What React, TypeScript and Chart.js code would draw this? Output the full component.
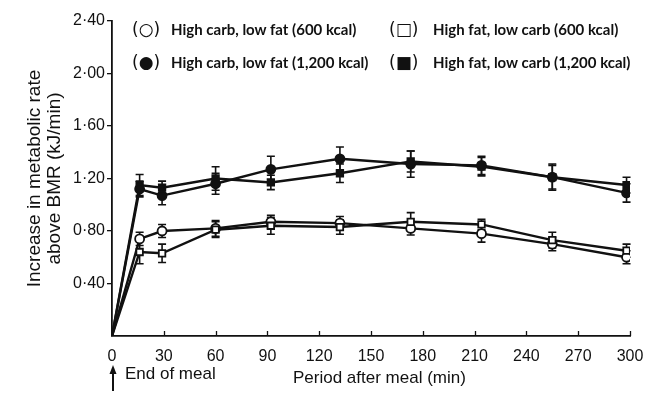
import React, { useEffect, useRef } from "react";
import { Chart, registerables } from "chart.js";

Chart.register(...registerables);

// ---- data ----
const times = [0, 16, 29, 60, 92, 132, 173, 214, 255, 298];
const hc600 = [0, 0.74, 0.8, 0.82, 0.87, 0.86, 0.82, 0.78, 0.7, 0.6];
const hc600Err = [0, 0.05, 0.05, 0.06, 0.05, 0.05, 0.05, 0.065, 0.05, 0.05];
const hf600 = [0, 0.64, 0.63, 0.81, 0.84, 0.83, 0.87, 0.85, 0.73, 0.65];
const hf600Err = [0, 0.09, 0.07, 0.06, 0.065, 0.055, 0.07, 0.04, 0.06, 0.05];
const hc1200 = [0, 1.12, 1.07, 1.16, 1.27, 1.35, 1.31, 1.3, 1.21, 1.09];
const hc1200Err = [0, 0.06, 0.07, 0.08, 0.1, 0.09, 0.1, 0.07, 0.1, 0.07];
const hf1200 = [0, 1.15, 1.13, 1.2, 1.17, 1.24, 1.33, 1.29, 1.21, 1.15];
const hf1200Err = [0, 0.08, 0.05, 0.09, 0.055, 0.07, 0.08, 0.07, 0.09, 0.06];

const xTicks = [0, 30, 60, 90, 120, 150, 180, 210, 240, 270, 300];
const yTicks = [0.4, 0.8, 1.2, 1.6, 2.0, 2.4];

const seriesLabels = [
  "High carb, low fat (600 kcal)",
  "High fat, low carb (600 kcal)",
  "High carb, low fat (1,200 kcal)",
  "High fat, low carb (1,200 kcal)",
];
const legendSymbols = ["(○)", "(□)", "(●)", "(■)"];
const yTitle = ["Increase in metabolic rate", "above BMR (kJ/min)"];
const xTitle = "Period after meal (min)";
const mealNote = "End of meal";

const FONT = "'Liberation Sans', Arial, sans-serif";
const INK = "#111";

const errorBarPlugin = {
  id: "errorBars",
  beforeDatasetsDraw(chart: any) {
    const { ctx, scales } = chart;
    const x = scales.x;
    const y = scales.y;
    ctx.save();
    ctx.strokeStyle = INK;
    ctx.lineWidth = 1.6;
    chart.data.datasets.forEach((ds: any) => {
      const errs: number[] = ds.errors || [];
      ds.data.forEach((p: any, i: number) => {
        const e = errs[i];
        if (!e) return;
        const px = x.getPixelForValue(p.x);
        const top = y.getPixelForValue(p.y + e);
        const bot = y.getPixelForValue(p.y - e);
        ctx.beginPath();
        ctx.moveTo(px, top);
        ctx.lineTo(px, bot);
        ctx.moveTo(px - 4, top);
        ctx.lineTo(px + 4, top);
        ctx.moveTo(px - 4, bot);
        ctx.lineTo(px + 4, bot);
        ctx.stroke();
      });
    });
    ctx.restore();
  },
  afterDraw(chart: any) {
    const { ctx, scales, chartArea } = chart;
    const x = scales.x;
    ctx.save();
    ctx.strokeStyle = INK;
    ctx.lineWidth = 1.3;
    // inward x ticks
    xTicks.forEach((v) => {
      if (v === 0) return;
      const px = Math.round(x.getPixelForValue(v)) + 0.5;
      ctx.beginPath();
      ctx.moveTo(px, chartArea.bottom);
      ctx.lineTo(px, chartArea.bottom - 5);
      ctx.stroke();
    });
    // "end of meal" arrow at t = 0
    const ax = x.getPixelForValue(0) + 1;
    ctx.lineWidth = 2;
    ctx.beginPath();
    ctx.moveTo(ax, 391);
    ctx.lineTo(ax, 372);
    ctx.stroke();
    ctx.fillStyle = INK;
    ctx.beginPath();
    ctx.moveTo(ax, 365);
    ctx.lineTo(ax - 3.5, 374);
    ctx.lineTo(ax + 3.5, 374);
    ctx.closePath();
    ctx.fill();
    ctx.restore();
  },
};

function makeDataset(label: string, vals: number[], errs: number[], style: string, filled: boolean) {
  return {
    label,
    data: times.map((t, i) => ({ x: t, y: vals[i] })),
    errors: errs,
    borderColor: INK,
    borderWidth: 2.4,
    tension: 0,
    pointStyle: style,
    pointRadius: times.map((_, i) => (i === 0 ? 0 : style === "rect" ? 4.6 : 4.5)),
    pointHoverRadius: 0,
    pointBackgroundColor: filled ? INK : "#fff",
    pointBorderColor: INK,
    pointBorderWidth: 1.8,
  };
}

export default function App() {
  const ref = useRef<HTMLCanvasElement | null>(null);

  useEffect(() => {
    document.body.style.margin = "0";
    if (!ref.current) return;
    const chart = new Chart(ref.current, {
      type: "line",
      data: {
        datasets: [
          makeDataset(seriesLabels[2], hc1200, hc1200Err, "circle", true),
          makeDataset(seriesLabels[3], hf1200, hf1200Err, "rect", true),
          makeDataset(seriesLabels[1], hf600, hf600Err, "rect", false),
          makeDataset(seriesLabels[0], hc600, hc600Err, "circle", false),
        ] as any,
      },
      options: {
        responsive: false,
        animation: false,
        events: [],
        layout: { padding: { left: 0, top: 21, right: 34, bottom: 0 } },
        plugins: { legend: { display: false }, tooltip: { enabled: false } },
        scales: {
          x: {
            type: "linear",
            min: 0,
            max: 300,
            afterBuildTicks: (s: any) => {
              s.ticks = xTicks.map((v) => ({ value: v }));
            },
            afterFit: (s: any) => {
              s.height = 58;
            },
            grid: { display: false },
            border: { display: true, color: INK, width: 1.8 },
            ticks: {
              color: INK,
              padding: 3,
              maxRotation: 0,
              autoSkip: false,
              font: { family: FONT, size: 16 },
              callback: (v: any) => String(v),
            },
          },
          y: {
            type: "linear",
            min: 0,
            max: 2.4,
            afterBuildTicks: (s: any) => {
              s.ticks = yTicks.map((v) => ({ value: v }));
            },
            afterFit: (s: any) => {
              s.width = 112;
            },
            grid: {
              display: true,
              drawOnChartArea: false,
              drawTicks: true,
              tickLength: 5,
              color: INK,
              lineWidth: 1.3,
            },
            border: { display: true, color: INK, width: 1.8 },
            ticks: {
              color: INK,
              padding: 2,
              autoSkip: false,
              font: { family: FONT, size: 16 },
              callback: (v: any) => Number(v).toFixed(2).replace(".", "·"),
            },
            title: {
              display: true,
              text: yTitle,
              color: INK,
              font: { family: FONT, size: 19, lineHeight: 1.05 },
              padding: { top: 25, bottom: 0 },
            },
          },
        },
      },
      plugins: [errorBarPlugin],
    });
    return () => chart.destroy();
  }, []);

  const legendPos = [
    { sx: 132, tx: 171, y: 29 },
    { sx: 389, tx: 433, y: 29 },
    { sx: 132, tx: 171, y: 62 },
    { sx: 389, tx: 433, y: 62 },
  ];

  return (
    <div style={{ position: "fixed", left: 0, top: 0, width: 664, height: 394, background: "#fff" }}>
      <canvas ref={ref} width={664} height={394} style={{ display: "block" }} />
      {legendPos.map((p, i) => (
        <React.Fragment key={i}>
          <span
            style={{
              position: "absolute",
              left: p.sx,
              top: p.y - 11,
              lineHeight: "22px",
              fontFamily: "'DejaVu Sans', sans-serif",
              fontSize: 17,
              color: INK,
              whiteSpace: "nowrap",
            }}
          >
            {legendSymbols[i]}
          </span>
          <span
            style={{
              position: "absolute",
              left: p.tx,
              top: p.y - 11,
              lineHeight: "22px",
              fontFamily: "Lato, sans-serif",
              fontWeight: 700,
              fontSize: 15,
              color: INK,
              whiteSpace: "nowrap",
            }}
          >
            {seriesLabels[i]}
          </span>
        </React.Fragment>
      ))}
      <span
        style={{
          position: "absolute",
          left: 125,
          top: 363,
          lineHeight: "22px",
          fontFamily: FONT,
          fontSize: 17,
          color: INK,
          whiteSpace: "nowrap",
        }}
      >
        {mealNote}
      </span>
      <span
        style={{
          position: "absolute",
          left: 293,
          top: 367,
          lineHeight: "22px",
          fontFamily: FONT,
          fontSize: 17,
          color: INK,
          whiteSpace: "nowrap",
        }}
      >
        {xTitle}
      </span>
    </div>
  );
}
